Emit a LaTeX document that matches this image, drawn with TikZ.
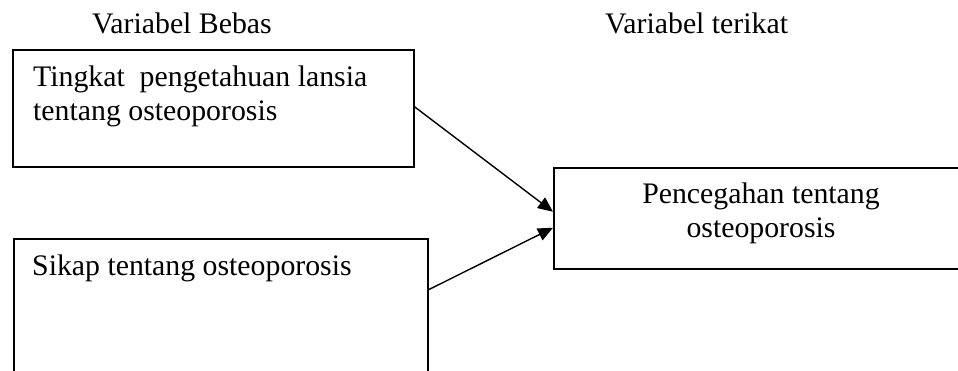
\documentclass[tikz,border=0pt]{standalone}
\usepackage{fontspec}
\setmainfont{Liberation Serif}
\usetikzlibrary{arrows.meta}
\begin{document}
\begin{tikzpicture}[x=1pt,y=-1pt,
  varbox/.style={draw=black,line width=1.5pt,rectangle,inner sep=0pt,anchor=north west},
  lbl/.style={inner sep=0pt,font=\fontsize{29.8}{34}\selectfont},
  link/.style={line width=1.4pt,-{Triangle[length=15pt,width=13pt]}}]
\useasboundingbox (0,0) rectangle (958,370);
\clip (0,0) rectangle (958,370);
\fill[white] (0,0) rectangle (958,370);

% column headings
\node[lbl,anchor=base west] (hbebas) at (92,33) {Variabel Bebas};
\node[lbl,anchor=base west] (hterikat) at (605,33) {Variabel terikat};

% independent variables
\node[varbox,minimum width=401pt,minimum height=117pt] (b1) at (12,49) {};
\node[lbl,anchor=base west] (t1a) at (33,86) {Tingkat\ \ pengetahuan lansia};
\node[lbl,anchor=base west] (t1b) at (33,120) {tentang osteoporosis};

\node[varbox,minimum width=414pt,minimum height=134pt] (b2) at (13,238) {};
\node[lbl,anchor=base west] (t2) at (32,275) {Sikap tentang osteoporosis};

% dependent variable
\node[varbox,minimum width=415pt,minimum height=101pt] (b3) at (553,167) {};
\node[lbl,anchor=base] (t3a) at (761,203) {Pencegahan tentang};
\node[lbl,anchor=base] (t3b) at (761,237) {osteoporosis};

% influences
\draw[link] ([yshift=1.5pt]b1.east) -- ([yshift=6.5pt]b3.west);
\draw[link] ([yshift=16pt]b2.east) -- ([yshift=-9.5pt]b3.west);
\end{tikzpicture}
\end{document}
